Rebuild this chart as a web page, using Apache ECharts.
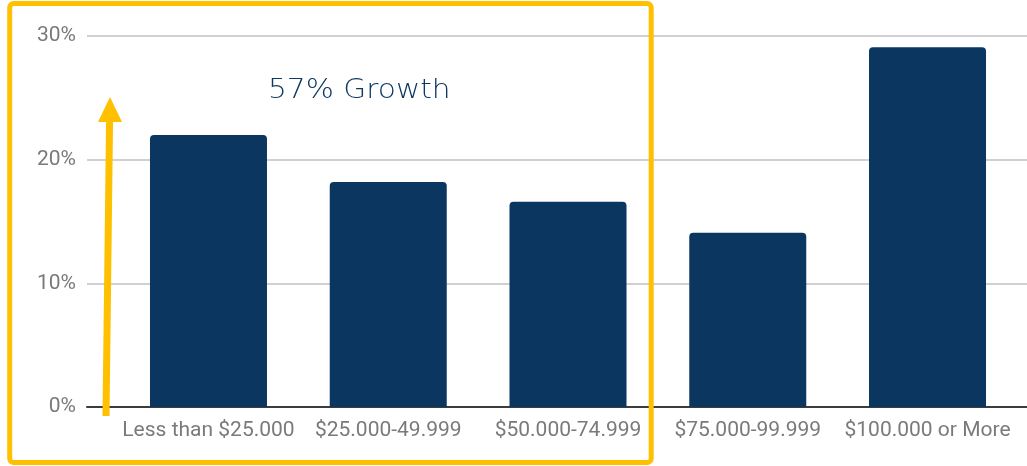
<!DOCTYPE html>
<html>
<head>
<meta charset="utf-8">
<script src="https://cdn.jsdelivr.net/npm/echarts@6/dist/echarts.min.js"></script>
<style>
  html, body { margin: 0; padding: 0; background: #ffffff; }
  #chart { width: 1027px; height: 466px; }
</style>
</head>
<body>
<div id="chart"></div>
<script>
// Household income brackets and their share (%)
const categories = [
  'Less than $25.000',
  '$25.000-49.999',
  '$50.000-74.999',
  '$75.000-99.999',
  '$100.000 or More'
];
const shares = [22.0, 18.2, 16.6, 14.1, 29.1];
const yTicks = [0, 10, 20, 30];
const calloutText = '57% Growth';

const BAR = '#0a365f';
const LABEL = '#7a7a7a';
const GOLD = '#ffc000';

const chart = echarts.init(document.getElementById('chart'), null, { renderer: 'canvas' });

const yMin = yTicks[0];
const yMax = yTicks[yTicks.length - 1];
const yStep = yTicks[1] - yTicks[0];

chart.setOption({
  animation: false,
  backgroundColor: '#ffffff',
  grid: [
    // wide grid carrying the gridlines, baseline and percentage labels
    { left: 87, right: 0, top: 36, bottom: 59, containLabel: false },
    // inner grid holding the bars and category labels
    { left: 118.6, right: 9.6, top: 36, bottom: 59, containLabel: false }
  ],
  xAxis: [
    {
      gridIndex: 0, type: 'category', data: categories,
      axisLine: { show: true, lineStyle: { color: '#3c3c3c', width: 2 } },
      axisTick: { show: false }, axisLabel: { show: false }, splitLine: { show: false }
    },
    {
      gridIndex: 1, type: 'category', data: categories,
      axisLine: { show: false }, axisTick: { show: false },
      axisLabel: {
        color: LABEL, fontFamily: 'Roboto', fontSize: 21, margin: 13, interval: 0
      }
    }
  ],
  yAxis: [
    {
      gridIndex: 0, type: 'value', min: yMin, max: yMax, interval: yStep,
      axisLine: { show: false }, axisTick: { show: false },
      axisLabel: {
        color: LABEL, fontFamily: 'Roboto', fontSize: 21, margin: 11,
        formatter: v => v + '%'
      },
      splitLine: { lineStyle: { color: '#d0d0d0', width: 2 } }
    },
    {
      gridIndex: 1, type: 'value', min: yMin, max: yMax, interval: yStep,
      show: false, splitLine: { show: false }
    }
  ],
  series: [{
    type: 'bar',
    xAxisIndex: 1, yAxisIndex: 1,
    data: shares,
    barWidth: 117,
    itemStyle: { color: BAR, borderRadius: [4, 4, 0, 0] },
    z: 3
  }],
  graphic: [
    // highlight frame around the three lower brackets
    {
      type: 'rect', z: 10,
      shape: { x: 9.7, y: 3.5, width: 641.5, height: 459, r: 4 },
      style: { fill: 'none', stroke: GOLD, lineWidth: 5 }
    },
    // growth arrow
    {
      type: 'line', z: 10,
      shape: { x1: 106, y1: 416, x2: 109.6, y2: 118 },
      style: { stroke: GOLD, lineWidth: 7 }
    },
    {
      type: 'polygon', z: 10,
      shape: { points: [[98, 122], [122, 122], [110, 97]] },
      style: { fill: GOLD }
    },
    {
      type: 'text', z: 10,
      x: 268, y: 78, scaleX: 1.14,
      style: {
        text: calloutText,
        fill: '#0d3864',
        font: '300 26px "DejaVu Sans"',
        verticalAlign: 'top'
      }
    }
  ]
});
</script>
</body>
</html>
